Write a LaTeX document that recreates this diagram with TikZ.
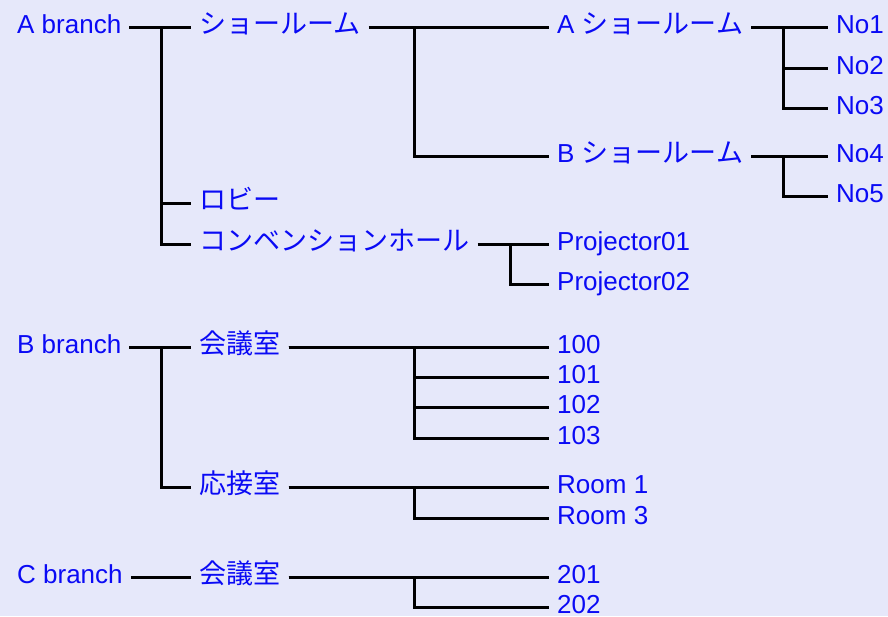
\documentclass[tikz,border=0pt]{standalone}
\usepackage{fontspec}
\setmainfont{Liberation Sans}
\newfontfamily\jp[Scale=1.04]{Noto Sans CJK JP}
\definecolor{fond}{RGB}{230,232,250}
\definecolor{bleu}{RGB}{10,10,245}
\begin{document}
\begin{tikzpicture}[x=1pt,y=-1pt]

% définition des styles
\tikzstyle{noeud}=[anchor=west,inner xsep=8pt,inner ysep=0pt,text height=18pt,text depth=6pt,text=bleu,font=\fontsize{26}{30}\selectfont]
\tikzstyle{lien}=[-,line width=3pt,black]

% le fond
\fill[fond] (0,0) rectangle (888,616);
\useasboundingbox (0,0) rectangle (888,616);

% les jonctions
\coordinate (jA) at (161,0);
\coordinate (jB) at (414,0);
\coordinate (jC) at (783,0);
\coordinate (jD) at (510,0);

% A branch
\node [noeud] (ab) at (9,27) {A branch};
\node [noeud] (sr) at (191,27) {\jp ショールーム};
\node [noeud] (asr) at (549,27) {A {\jp ショールーム}};
\node [noeud] (bsr) at (549,156) {B {\jp ショールーム}};
\node [noeud] (no1) at (828,27) {No1};
\node [noeud] (no2) at (828,68) {No2};
\node [noeud] (no3) at (828,108) {No3};
\node [noeud] (no4) at (828,156) {No4};
\node [noeud] (no5) at (828,196) {No5};
\node [noeud] (lob) at (191,203) {\jp ロビー};
\node [noeud] (conv) at (191,244) {\jp コンベンションホール};
\node [noeud] (pr1) at (549,244) {Projector01};
\node [noeud] (pr2) at (549,284) {Projector02};

% B branch
\node [noeud] (bb) at (9,347) {B branch};
\node [noeud] (kgb) at (191,347) {\jp 会議室};
\node [noeud] (r100) at (549,347) {100};
\node [noeud] (r101) at (549,377) {101};
\node [noeud] (r102) at (549,407) {102};
\node [noeud] (r103) at (549,438) {103};
\node [noeud] (osb) at (191,487) {\jp 応接室};
\node [noeud] (rm1) at (549,487) {Room 1};
\node [noeud] (rm3) at (549,518) {Room 3};

% C branch
\node [noeud] (cb) at (9,577) {C branch};
\node [noeud] (kgc) at (191,577) {\jp 会議室};
\node [noeud] (r201) at (549,577) {201};
\node [noeud] (r202) at (549,607) {202};

% les liens
\draw[lien] (ab.east) -- (ab.east -| jA) |- (sr.west);
\draw[lien] (ab.east) -- (ab.east -| jA) |- (lob.west);
\draw[lien] (ab.east) -- (ab.east -| jA) |- (conv.west);
\draw[lien] (sr.east) -- (sr.east -| jB) |- (asr.west);
\draw[lien] (sr.east) -- (sr.east -| jB) |- (bsr.west);
\draw[lien] (asr.east) -- (asr.east -| jC) |- (no1.west);
\draw[lien] (asr.east) -- (asr.east -| jC) |- (no2.west);
\draw[lien] (asr.east) -- (asr.east -| jC) |- (no3.west);
\draw[lien] (bsr.east) -- (bsr.east -| jC) |- (no4.west);
\draw[lien] (bsr.east) -- (bsr.east -| jC) |- (no5.west);
\draw[lien] (conv.east) -- (conv.east -| jD) |- (pr1.west);
\draw[lien] (conv.east) -- (conv.east -| jD) |- (pr2.west);

\draw[lien] (bb.east) -- (bb.east -| jA) |- (kgb.west);
\draw[lien] (bb.east) -- (bb.east -| jA) |- (osb.west);
\draw[lien] (kgb.east) -- (kgb.east -| jB) |- (r100.west);
\draw[lien] (kgb.east) -- (kgb.east -| jB) |- (r101.west);
\draw[lien] (kgb.east) -- (kgb.east -| jB) |- (r102.west);
\draw[lien] (kgb.east) -- (kgb.east -| jB) |- (r103.west);
\draw[lien] (osb.east) -- (osb.east -| jB) |- (rm1.west);
\draw[lien] (osb.east) -- (osb.east -| jB) |- (rm3.west);

\draw[lien] (cb.east) -- (kgc.west);
\draw[lien] (kgc.east) -- (kgc.east -| jB) |- (r201.west);
\draw[lien] (kgc.east) -- (kgc.east -| jB) |- (r202.west);

\end{tikzpicture}
\end{document}
